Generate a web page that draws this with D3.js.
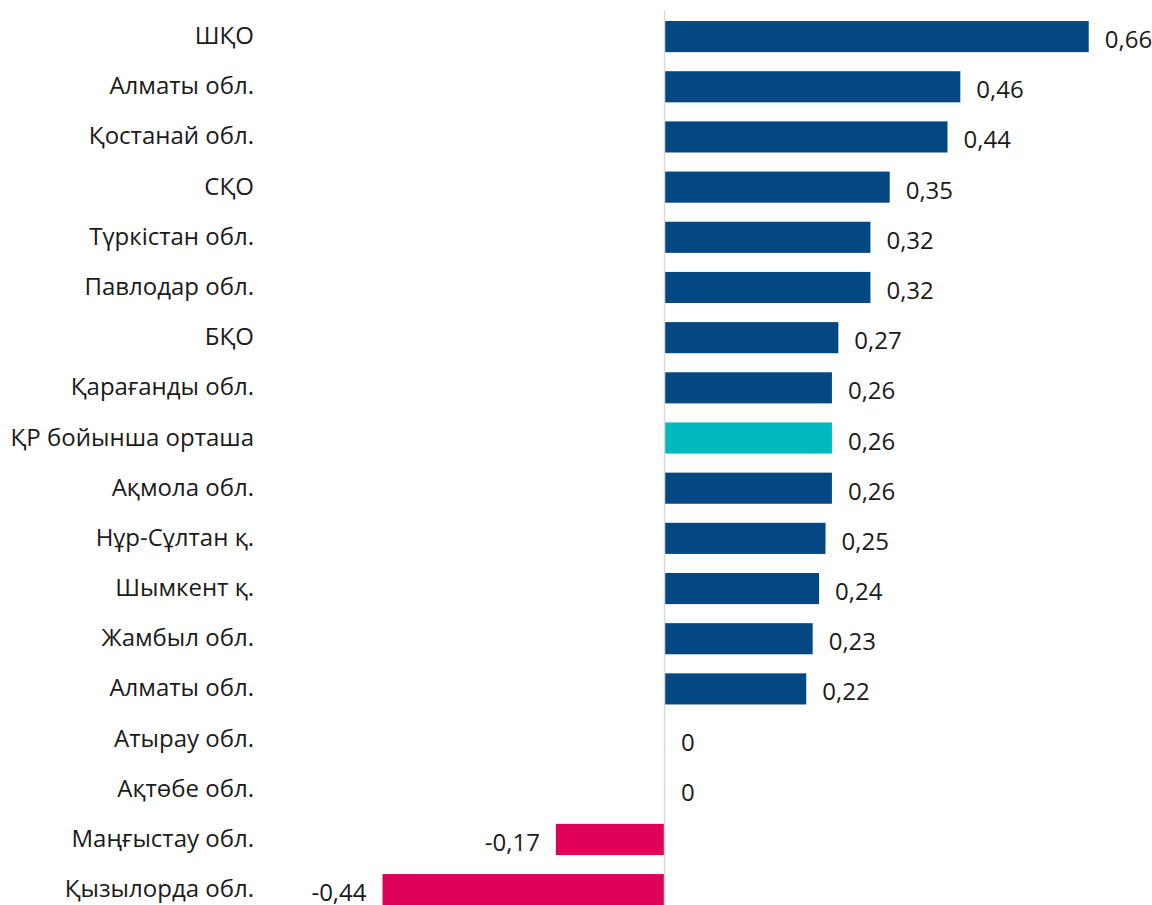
<!DOCTYPE html>
<html>
<head>
<meta charset="utf-8">
<script src="https://cdn.jsdelivr.net/npm/d3@7"></script>
<style>
  html, body { margin: 0; padding: 0; background: #fff; }
  svg { display: block; font-family: "Open Sans", "Noto Sans", sans-serif; }
</style>
</head>
<body>
<svg id="chart" width="1152" height="905"></svg>
<script>
// Regions, top to bottom
const regions = [
  "ШҚО", "Алматы обл.", "Қостанай обл.", "СҚО", "Түркістан обл.",
  "Павлодар обл.", "БҚО", "Қарағанды обл.", "ҚР бойынша орташа",
  "Ақмола обл.", "Нұр-Сұлтан қ.", "Шымкент қ.", "Жамбыл обл.",
  "Алматы обл.", "Атырау обл.", "Ақтөбе обл.", "Маңғыстау обл.", "Қызылорда обл."
];
const values = [0.66, 0.46, 0.44, 0.35, 0.32, 0.32, 0.27, 0.26, 0.26,
                0.26, 0.25, 0.24, 0.23, 0.22, 0, 0, -0.17, -0.44];
// Which bar is the national average
const averageLabel = "ҚР бойынша орташа";

const colors = { positive: "#034882", negative: "#df0059", average: "#00b9be", axis: "#d9d9d9", text: "#1a1a1a" };

const data = regions.map((r, i) => ({ key: i, region: r, value: values[i] }));

const svg = d3.select("#chart");

const x = d3.scaleLinear().domain([-0.5, 0.7]).range([344, 1114.4]);
const y = d3.scaleBand()
  .domain(data.map(d => d.key))
  .range([11.5, 914.7])
  .paddingInner(0.38)
  .paddingOuter(0.19);

// Bars
svg.append("g").selectAll("rect").data(data).join("rect")
  .attr("x", d => x(Math.min(0, d.value)))
  .attr("y", d => y(d.key))
  .attr("width", d => Math.abs(x(d.value) - x(0)))
  .attr("height", y.bandwidth())
  .attr("fill", d => d.region === averageLabel ? colors.average : (d.value < 0 ? colors.negative : colors.positive));

// Zero axis line
svg.append("line")
  .attr("x1", x(0) - 0.5).attr("x2", x(0) - 0.5)
  .attr("y1", 11).attr("y2", 905)
  .attr("stroke", colors.axis).attr("stroke-width", 1.5);

// Category labels
svg.append("g").selectAll("text").data(data).join("text")
  .attr("x", 254)
  .attr("y", d => y(d.key) + y.bandwidth() / 2 - 2)
  .attr("text-anchor", "end")
  .attr("dominant-baseline", "central")
  .attr("font-size", 24)
  .attr("fill", colors.text)
  .text(d => d.region);

// Value labels
const fmt = v => String(v).replace(".", ",");
svg.append("g").selectAll("text").data(data).join("text")
  .attr("x", d => d.value < 0 ? x(d.value) - 16 : x(d.value) + 16)
  .attr("y", d => y(d.key) + y.bandwidth() / 2 + 2)
  .attr("text-anchor", d => d.value < 0 ? "end" : "start")
  .attr("dominant-baseline", "central")
  .attr("font-size", 24)
  .attr("fill", colors.text)
  .text(d => fmt(d.value));
</script>
</body>
</html>
